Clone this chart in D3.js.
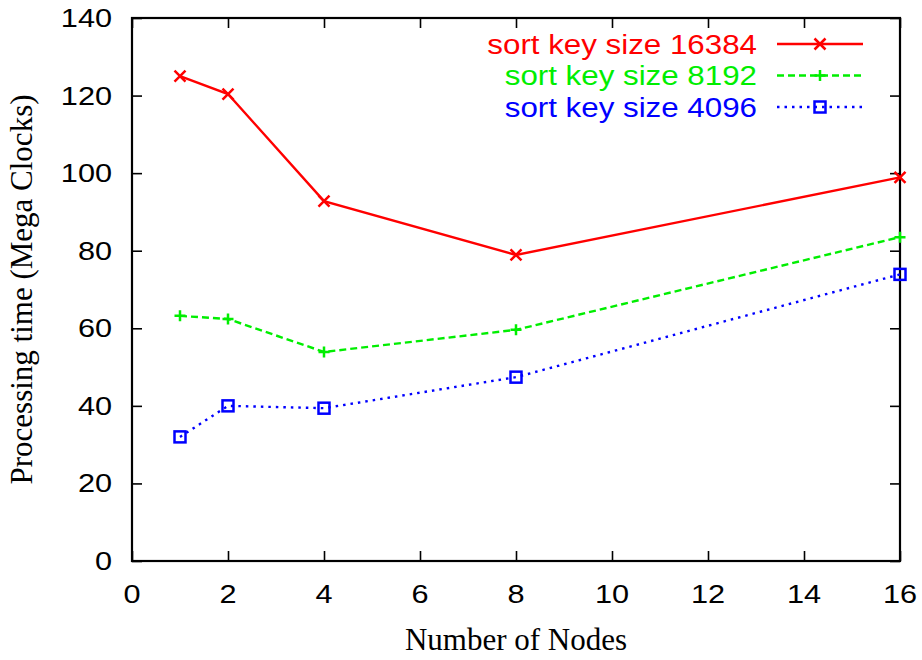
<!DOCTYPE html>
<html>
<head>
<meta charset="utf-8">
<script src="https://cdn.jsdelivr.net/npm/d3@7"></script>
<style>
  html, body { margin: 0; padding: 0; background: #fff; }
  svg { display: block; }
</style>
</head>
<body>
<svg id="chart" width="922" height="660"></svg>
<script>
// Node counts on the x axis
const nodes = [1, 2, 4, 8, 16];
// Processing time (mega clocks) per sort key size
const key16384 = [125.0, 120.4, 92.8, 78.9, 98.9];
const key8192  = [63.2, 62.4, 53.9, 59.6, 83.5];
const key4096  = [32.0, 40.0, 39.4, 47.4, 73.9];
const seriesNames = ["sort key size 16384", "sort key size 8192", "sort key size 4096"];
const xTicks = [0, 2, 4, 6, 8, 10, 12, 14, 16];
const yTicks = [0, 20, 40, 60, 80, 100, 120, 140];

const series = [
  { name: seriesNames[0], values: key16384, color: "#ff0000", dash: null,  marker: "x" },
  { name: seriesNames[1], values: key8192,  color: "#00ee00", dash: "7,4", marker: "plus" },
  { name: seriesNames[2], values: key4096,  color: "#0000ff", dash: "2.5,5", marker: "square" }
];

const svg = d3.select("#chart");
const plot = { left: 132, right: 900, top: 18, bottom: 561 };

const x = d3.scaleLinear().domain([0, 16]).range([plot.left, plot.right]);
const y = d3.scaleLinear().domain([0, 140]).range([plot.bottom, plot.top]);

const sansFont = "'Liberation Sans', Arial, Helvetica, sans-serif";
const serifFont = "'Liberation Serif', 'Times New Roman', serif";
const tickLen = 10;

// Sans text widened horizontally like the PostScript Helvetica output
function wideText(g, px, py, str, anchor, size, color, stretch) {
  g.append("g")
    .attr("transform", `translate(${px},${py}) scale(${stretch},1)`)
    .append("text")
    .attr("text-anchor", anchor)
    .attr("font-family", sansFont)
    .attr("font-size", size)
    .attr("fill", color)
    .text(str);
}

// Axes with inward ticks on all four sides
const axisG = svg.append("g");
axisG.append("g")
  .attr("transform", `translate(0,${plot.bottom})`)
  .call(d3.axisBottom(x).tickValues(xTicks).tickSizeInner(-tickLen).tickSizeOuter(0).tickFormat(""));
axisG.append("g")
  .attr("transform", `translate(0,${plot.top})`)
  .call(d3.axisTop(x).tickValues(xTicks).tickSizeInner(-tickLen).tickSizeOuter(0).tickFormat(""));
axisG.append("g")
  .attr("transform", `translate(${plot.left},0)`)
  .call(d3.axisLeft(y).tickValues(yTicks).tickSizeInner(-tickLen).tickSizeOuter(0).tickFormat(""));
axisG.append("g")
  .attr("transform", `translate(${plot.right},0)`)
  .call(d3.axisRight(y).tickValues(yTicks).tickSizeInner(-tickLen).tickSizeOuter(0).tickFormat(""));
axisG.selectAll(".domain").remove();
axisG.selectAll(".tick line").attr("stroke", "#000").attr("stroke-width", 1.6);

// Plot frame
svg.append("rect")
  .attr("x", plot.left).attr("y", plot.top)
  .attr("width", plot.right - plot.left).attr("height", plot.bottom - plot.top)
  .attr("fill", "none").attr("stroke", "#000").attr("stroke-width", 2.2);

// Tick labels
const labels = svg.append("g");
xTicks.forEach(t => wideText(labels, x(t), plot.bottom + 42, String(t), "middle", 26, "#000", 1.18));
yTicks.forEach(t => wideText(labels, plot.left - 20, y(t) + 9, String(t), "end", 26, "#000", 1.18));

// Axis titles
svg.append("text")
  .attr("x", (plot.left + plot.right) / 2).attr("y", 650)
  .attr("text-anchor", "middle")
  .attr("font-family", serifFont).attr("font-size", 31)
  .text("Number of Nodes");
svg.append("text")
  .attr("transform", `translate(32,${(plot.top + plot.bottom) / 2}) rotate(-90)`)
  .attr("text-anchor", "middle")
  .attr("font-family", serifFont).attr("font-size", 31)
  .text("Processing time (Mega Clocks)");

// Marker drawing
function drawMarker(g, type, cx, cy, color) {
  const s = 5.5;
  if (type === "x") {
    g.append("path")
      .attr("d", `M${cx - s},${cy - s}L${cx + s},${cy + s}M${cx - s},${cy + s}L${cx + s},${cy - s}`)
      .attr("stroke", color).attr("stroke-width", 2.5).attr("fill", "none");
  } else if (type === "plus") {
    g.append("path")
      .attr("d", `M${cx - s},${cy}L${cx + s},${cy}M${cx},${cy - s}L${cx},${cy + s}`)
      .attr("stroke", color).attr("stroke-width", 2.5).attr("fill", "none");
  } else {
    g.append("rect")
      .attr("x", cx - s).attr("y", cy - s).attr("width", 2 * s).attr("height", 2 * s)
      .attr("stroke", color).attr("stroke-width", 2.5).attr("fill", "none");
  }
}

const line = d3.line().x((d, i) => x(nodes[i])).y(d => y(d));

series.forEach((s, k) => {
  const g = svg.append("g");
  g.append("path")
    .attr("d", line(s.values))
    .attr("fill", "none")
    .attr("stroke", s.color)
    .attr("stroke-width", 2.4)
    .attr("stroke-dasharray", s.dash);
  s.values.forEach((v, i) => drawMarker(g, s.marker, x(nodes[i]), y(v), s.color));

  // Legend entry
  const ly = 44 + k * 31.5;
  wideText(g, 757, ly + 9.5, s.name, "end", 27, s.color, 1.16);
  g.append("line")
    .attr("x1", 777).attr("x2", 863).attr("y1", ly).attr("y2", ly)
    .attr("stroke", s.color).attr("stroke-width", 2.4)
    .attr("stroke-dasharray", s.dash);
  drawMarker(g, s.marker, 820, ly, s.color);
});
</script>
</body>
</html>
